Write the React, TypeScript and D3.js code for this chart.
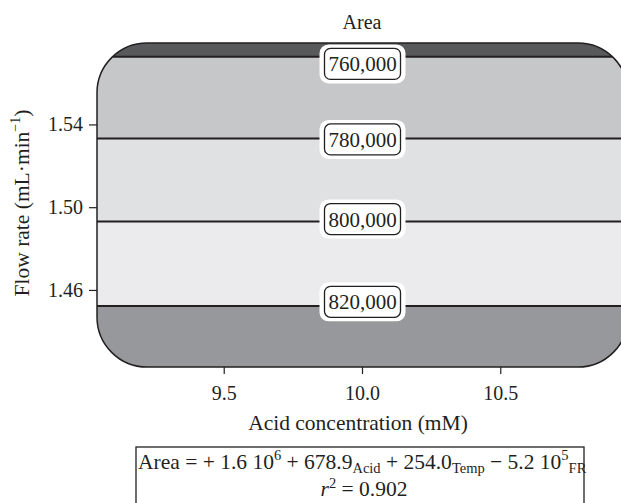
import React from 'react';
import * as d3 from 'd3';

// contour levels and where each line crosses the flow-rate axis
const levels = [760000, 780000, 800000, 820000];
const lineFlow = [1.5729, 1.5334, 1.4933, 1.4525];
const labelFlow = [1.5695, 1.533, 1.4945, 1.4545];
const labelAcid = 10.0;
const bandColors = ['#58595b', '#c6c7c9', '#e0e1e3', '#ebebed', '#97989b'];

const xTicks = [9.5, 10.0, 10.5];
const yTicks = [1.46, 1.5, 1.54];
const xDomain = [9.04, 10.96];
const yDomain = [1.423, 1.5796];

const W = 621;
const H = 503;
const font = '"Liberation Serif", "Times New Roman", serif';
const ink = '#231f20';

const App: React.FC = () => {
    const x = d3.scaleLinear().domain(xDomain).range([97, 628]);
    const y = d3.scaleLinear().domain(yDomain).range([367, 43]);
    const fmt = d3.format(',');

    const left = x(xDomain[0]);
    const right = x(xDomain[1]);
    const top = y(yDomain[1]);
    const bottom = y(yDomain[0]);

    // band edges from top of the plot down to the bottom
    const edges = [yDomain[1], ...lineFlow, yDomain[0]];

    return (
        <svg
            width={W}
            height={H}
            style={{ position: 'absolute', left: 0, top: 0 }}
            fontFamily={font}
        >
            <defs>
                <clipPath id="plotClip">
                    <rect
                        x={left}
                        y={top}
                        width={right - left}
                        height={bottom - top}
                        rx={50}
                        ry={50}
                    />
                </clipPath>
            </defs>

            <text x={362} y={29} fontSize={20} textAnchor="middle" fill={ink}>
                Area
            </text>

            <g clipPath="url(#plotClip)">
                {bandColors.map((c, i) => (
                    <rect
                        key={c}
                        x={left}
                        y={y(edges[i])}
                        width={right - left}
                        height={y(edges[i + 1]) - y(edges[i])}
                        fill={c}
                    />
                ))}
                {lineFlow.map((f, i) => (
                    <line
                        key={levels[i]}
                        x1={left}
                        x2={right}
                        y1={y(f)}
                        y2={y(f)}
                        stroke={ink}
                        strokeWidth={2}
                    />
                ))}
            </g>
            <rect
                x={left}
                y={top}
                width={right - left}
                height={bottom - top}
                rx={50}
                ry={50}
                fill="none"
                stroke={ink}
                strokeWidth={1.5}
            />

            {levels.map((lv, i) => {
                const cx = x(labelAcid);
                const cy = y(labelFlow[i]);
                return (
                    <g key={lv}>
                        <rect
                            x={cx - 43}
                            y={cy - 19.5}
                            width={86}
                            height={39}
                            rx={9}
                            fill="#fff"
                        />
                        <rect
                            x={cx - 38}
                            y={cy - 15.5}
                            width={76}
                            height={31}
                            rx={6}
                            fill="#fff"
                            stroke={ink}
                            strokeWidth={1.3}
                        />
                        <text
                            x={cx}
                            y={cy + 7.5}
                            fontSize={21}
                            textAnchor="middle"
                            fill={ink}
                        >
                            {fmt(lv)}
                        </text>
                    </g>
                );
            })}

            {/* y axis */}
            {yTicks.map((t) => (
                <g key={t}>
                    <line x1={89} x2={left} y1={y(t)} y2={y(t)} stroke={ink} strokeWidth={1.2} />
                    <text x={83} y={y(t) + 6.5} fontSize={20} textAnchor="end" fill={ink}>
                        {d3.format('.2f')(t)}
                    </text>
                </g>
            ))}
            <text
                transform="translate(29,203) rotate(-90)"
                fontSize={21.5}
                textAnchor="middle"
                fill={ink}
            >
                Flow rate (mL·min
                <tspan fontSize={14} dy={-9}>−1</tspan>
                <tspan dy={9}>)</tspan>
            </text>

            {/* x axis */}
            {xTicks.map((t) => (
                <g key={t}>
                    <line x1={x(t)} x2={x(t)} y1={bottom} y2={bottom + 7} stroke={ink} strokeWidth={1.2} />
                    <text x={x(t)} y={400} fontSize={20} textAnchor="middle" fill={ink}>
                        {d3.format('.1f')(t)}
                    </text>
                </g>
            ))}
            <text x={358} y={430} fontSize={21.5} textAnchor="middle" fill={ink}>
                Acid concentration (mM)
            </text>

            {/* model equation */}
            <rect x={136} y={447} width={448} height={70} fill="none" stroke={ink} strokeWidth={1.3} />
            <text x={138} y={469} fontSize={21.5} fill={ink}>
                Area = + 1.6 10
                <tspan fontSize={14.5} dy={-9}>6</tspan>
                <tspan dy={9}> + 678.9</tspan>
                <tspan fontSize={14.5} dy={4}>Acid</tspan>
                <tspan dy={-4}> + 254.0</tspan>
                <tspan fontSize={14.5} dy={4}>Temp</tspan>
                <tspan dy={-4}> − 5.2 10</tspan>
                <tspan fontSize={14.5} dy={-9}>5</tspan>
                <tspan fontSize={14.5} dy={13}>FR</tspan>
            </text>
            <text x={364} y={496} fontSize={21.5} textAnchor="middle" fill={ink}>
                <tspan fontStyle="italic">r</tspan>
                <tspan fontSize={14.5} dy={-8}>2</tspan>
                <tspan dy={8}> = 0.902</tspan>
            </text>
        </svg>
    );
};

export default App;
